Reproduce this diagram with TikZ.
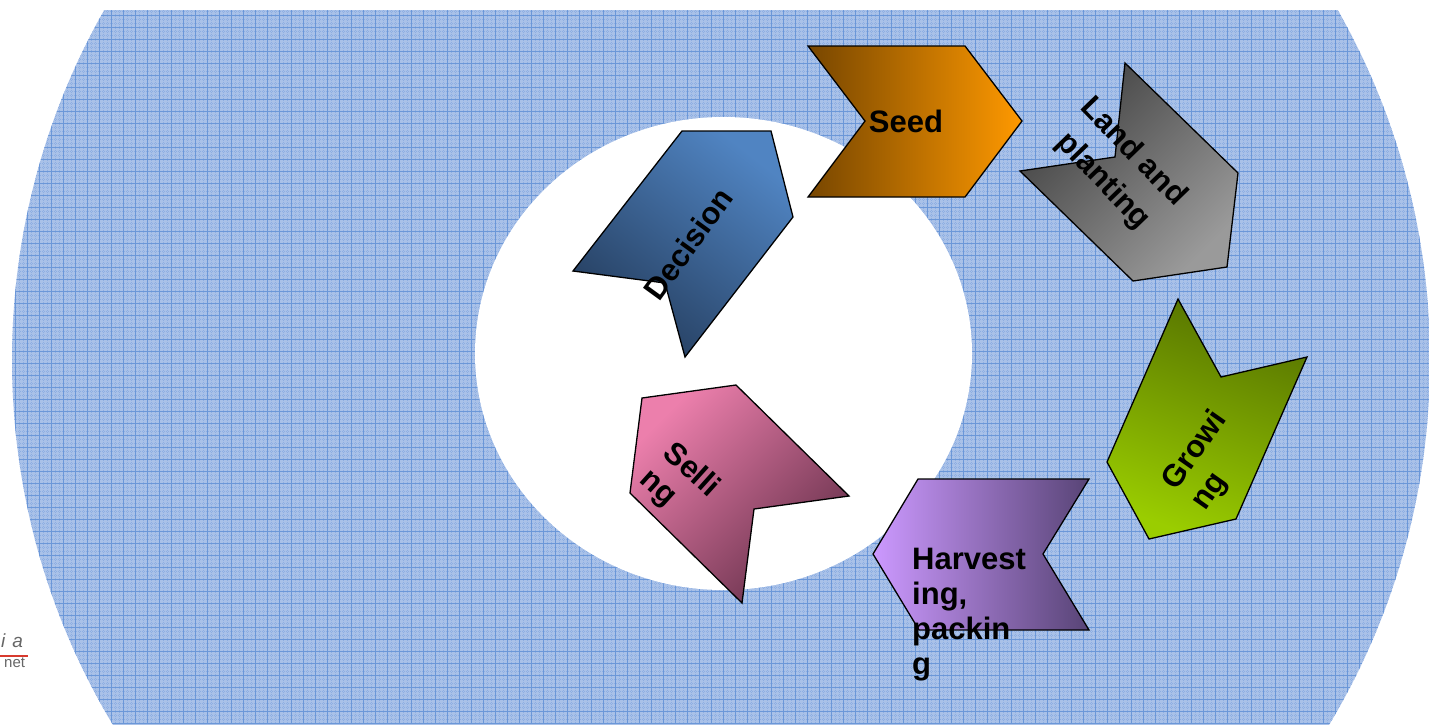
\documentclass[tikz,border=0pt]{standalone}
\usepackage{fontspec}
\setmainfont{Liberation Sans}
\definecolor{bgblue}{HTML}{A9C1E8}
\definecolor{gridmaj}{HTML}{6B97D8}
\definecolor{gridmin}{HTML}{8DAEE2}
\definecolor{seedA}{HTML}{774600}
\definecolor{seedB}{HTML}{FF9900}
\definecolor{landA}{HTML}{404040}
\definecolor{landB}{HTML}{9A9A9A}
\definecolor{growA}{HTML}{567300}
\definecolor{growB}{HTML}{9ACD00}
\definecolor{harvA}{HTML}{CC99FF}
\definecolor{harvB}{HTML}{584476}
\definecolor{sellA}{HTML}{EC7FAC}
\definecolor{sellB}{HTML}{66304A}
\definecolor{deciA}{HTML}{5084C2}
\definecolor{deciB}{HTML}{243C5C}
\definecolor{logored}{HTML}{D83A2E}
\begin{document}
\begin{tikzpicture}[x=1pt,y=-1pt,
  lbl/.style={font=\fontsize{31}{35}\selectfont\bfseries, inner sep=0pt, text=black},
  chev/.style={draw=black, line width=1.3pt, line join=miter},
  majline/.style={draw=gridmaj, line width=0.9pt},
  minline/.style={draw=gridmin, line width=0.8pt, dash pattern=on 1pt off 1pt}]
\useasboundingbox (0,0) rectangle (1429,724);
% big textured disc
\begin{scope}
  \clip (0,10) rectangle (1429,724);
  \fill[bgblue] (721,360) circle[radius=709pt];
  \clip (721,360) circle[radius=709pt];
  \foreach \i in {0,12,...,1428} {
    \draw[minline] (\i+7,0) -- (\i+7,724);
    \draw[minline] (\i+11,0) -- (\i+11,724);
    \draw[majline] (\i+3,0) -- (\i+3,724);
  }
  \foreach \j in {0,12,...,720} {
    \draw[minline] (0,\j+7) -- (1429,\j+7);
    \draw[minline] (0,\j+11) -- (1429,\j+11);
    \draw[majline] (0,\j+3) -- (1429,\j+3);
  }
\end{scope}
% inner white disc
\fill[white] (723.5,353.5) ellipse[x radius=248.5pt, y radius=236.5pt];
% chevrons
\draw[chev, top color=seedA, bottom color=seedB, shading angle=90]
  (808,46) -- (965,46) -- (1022,121) -- (965,197) -- (808,197) -- (865,121) -- cycle;
\draw[chev, top color=landA, bottom color=landB, shading angle=45]
  (1125,63) -- (1238,173) -- (1227,267) -- (1133,281) -- (1020,171) -- (1115,157) -- cycle;
\draw[chev, top color=growA, bottom color=growB, shading angle=-20]
  (1178,299) -- (1221,377) -- (1307,357) -- (1236,519) -- (1149,539) -- (1107,462) -- cycle;
\draw[chev, top color=harvA, bottom color=harvB, shading angle=90]
  (918,479) -- (1089,479) -- (1043,554) -- (1089,630) -- (919,630) -- (873,554) -- cycle;
\draw[chev, top color=sellA, bottom color=sellB, shading angle=45]
  (642,398) -- (736,385) -- (849,496) -- (754,509) -- (742,603) -- (630,493) -- cycle;
\draw[chev, top color=deciA, bottom color=deciB, shading angle=-38]
  (682,131) -- (771,131) -- (793,217) -- (685,357) -- (665,283) -- (573,271) -- cycle;
% labels
\node[lbl] (seed) at (906,121) {Seed};
\node[lbl, align=center, rotate=-46] (land) at (1118,167) {Land and\\[7pt]planting};
\node[lbl, align=left, rotate=55] (grow) at (1210,461) {Growi\\ng};
\node[lbl, align=left, anchor=north west] (harv) at (912,548) {Harvest\\ing,\\packin\\g};
\node[lbl, align=left, rotate=-42] (sell) at (679,484) {Selli\\ng};
\node[lbl, rotate=54] (deci) at (688,244) {Decision};
% cut-off logo
\node[anchor=base west, inner sep=0pt, text=black!60, font=\fontsize{19}{19}\selectfont\itshape] (logo1) at (1,647) {i\hspace{7pt}a};
\draw[logored, line width=1.2pt] (0,656) -- (28,656);
\node[anchor=base west, inner sep=0pt, text=black!60, font=\fontsize{15}{15}\selectfont] (logo2) at (4,667) {net};
\end{tikzpicture}
\end{document}
